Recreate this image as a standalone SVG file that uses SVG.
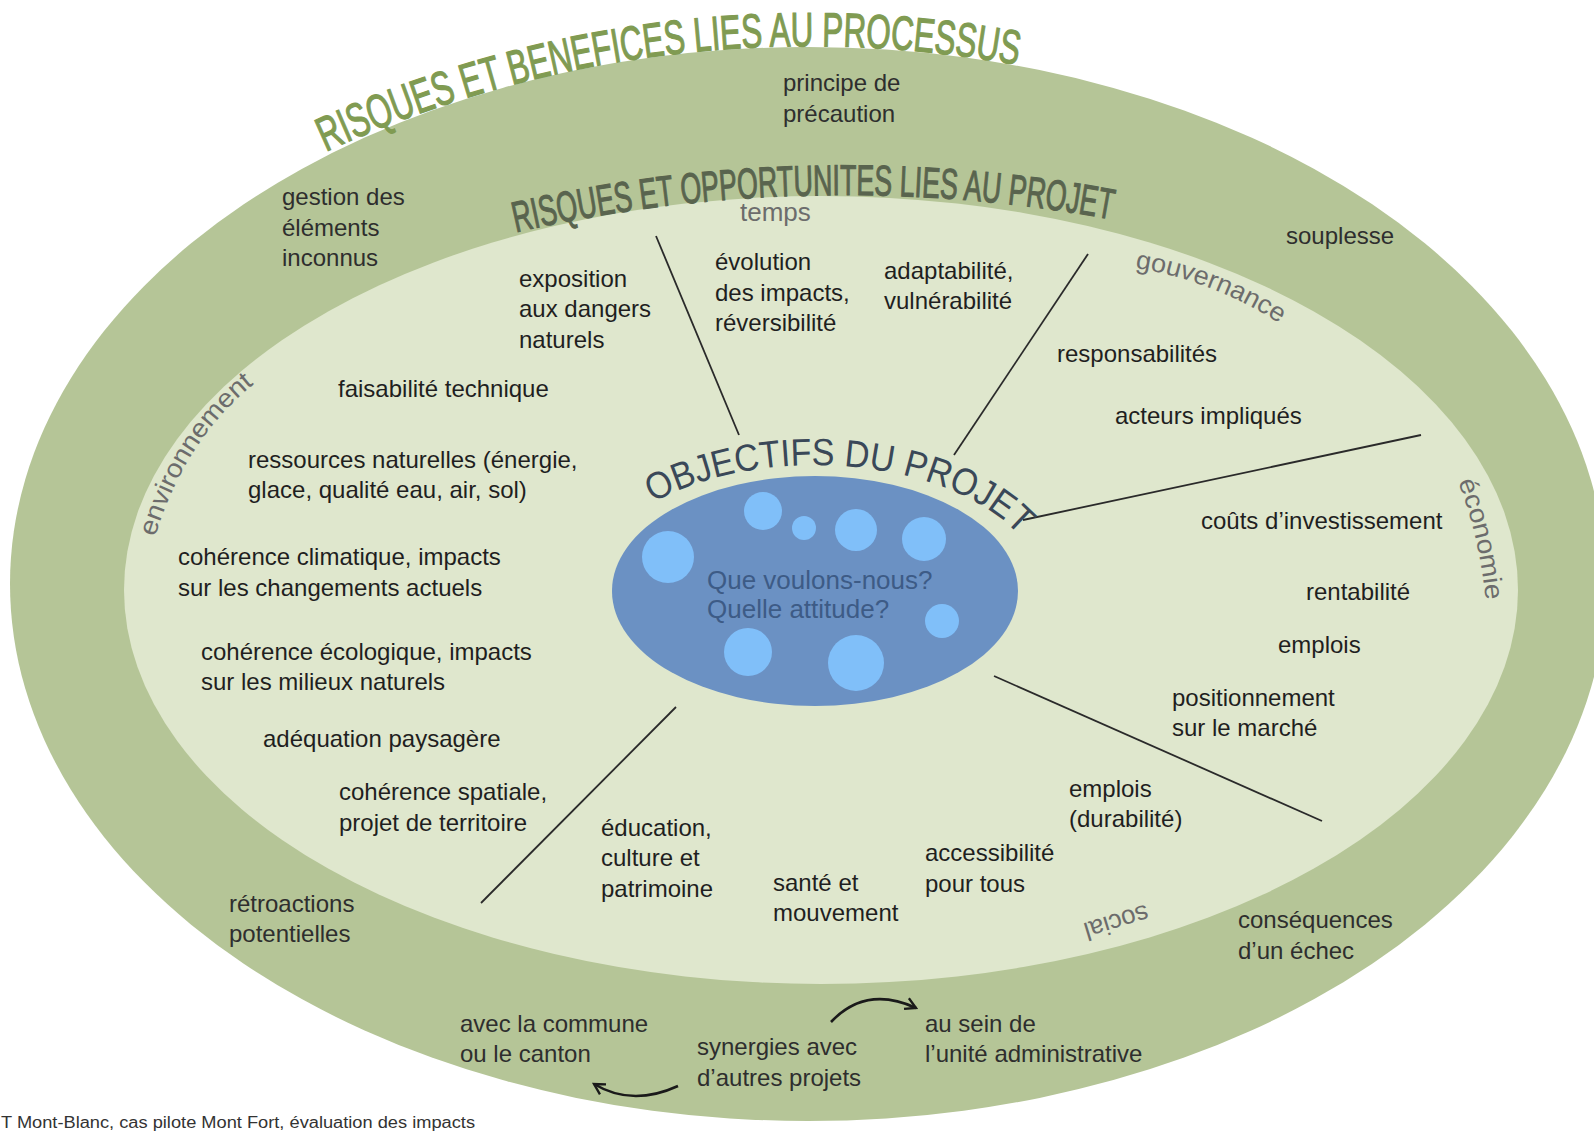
<svg xmlns="http://www.w3.org/2000/svg" width="1594" height="1132" viewBox="0 0 1594 1132">
<style>
  text { font-family: "Liberation Sans", Arial, sans-serif; }
  .t { font-size: 24px; fill: #1f1f1f; }
  .o { font-size: 24px; fill: #2e2e2e; }
  .lab { font-size: 26px; fill: #6c6c6c; }
  .t1 { font-size: 48px; fill: #809b52; stroke: #809b52; stroke-width: 1.2; }
  .t2 { font-size: 43px; fill: #59644e; stroke: #59644e; stroke-width: 1.1; }
  .obj { font-size: 38px; fill: #3a4858; }
  .q { font-size: 26px; fill: #3d5b86; }
  .ln { stroke: #2a2a2a; stroke-width: 1.8; fill: none; }
  .arr { stroke: #1a1a1a; stroke-width: 2.6; fill: none; marker-end: url(#chev); }
  .bub { fill: #80bff9; }
</style>
<defs>
  <marker id="chev" viewBox="0 0 12 12" refX="10" refY="6" markerWidth="14" markerHeight="14" markerUnits="userSpaceOnUse" orient="auto">
    <path d="M1,1 L10,6 L1,11" fill="none" stroke="#1a1a1a" stroke-width="2"/>
  </marker>
  <path id="p-title1" d="M250,190 A1160,1160 0 0 1 1250,133"/>
  <path id="p-title2" d="M400,264 A1470,1470 0 0 1 1250,252"/>
  <path id="p-obj" d="M585,595 A230,130 0 0 1 1045,595"/>
  <path id="p-env" d="M155,537 Q187,432 267,374"/>
  <path id="p-eco" d="M1458,482 Q1482,542 1488,624"/>
  <path id="p-gouv" d="M1135,268 Q1215,280 1290,330"/>
</defs>

<g id="outer-ring">
  <ellipse cx="808" cy="584" rx="798" ry="537" fill="#b5c597"/>
</g>
<g id="inner-ring">
  <ellipse cx="821" cy="590" rx="697" ry="394" fill="#dfe7cd"/>
</g>

<g id="title-processus">
  <text class="t1"><textPath href="#p-title1" startOffset="85" textLength="708" lengthAdjust="spacingAndGlyphs">RISQUES ET BENEFICES LIES AU PROCESSUS</textPath></text>
</g>
<g id="title-projet">
  <text class="t2"><textPath href="#p-title2" startOffset="120" textLength="600" lengthAdjust="spacingAndGlyphs">RISQUES ET OPPORTUNITES LIES AU PROJET</textPath></text>
</g>

<g id="connectors">
  <line class="ln" x1="656" y1="236" x2="739" y2="435"/>
  <line class="ln" x1="1088" y1="254" x2="954" y2="455"/>
  <line class="ln" x1="1421" y1="435" x2="1023" y2="520"/>
  <line class="ln" x1="994" y1="676" x2="1322" y2="821"/>
  <line class="ln" x1="676" y1="707" x2="481" y2="903"/>
  <path class="arr" d="M831,1022 Q866,985 916,1008"/>
  <path class="arr" d="M678,1086 Q632,1107 594,1084"/>
</g>

<!-- outer ring items -->
<g id="n-principe"><text class="o"><tspan x="783" y="91">principe de</tspan><tspan x="783" y="122">précaution</tspan></text></g>
<g id="n-gestion"><text class="o"><tspan x="282" y="205">gestion des</tspan><tspan x="282" y="236">éléments</tspan><tspan x="282" y="266">inconnus</tspan></text></g>
<g id="n-souplesse"><text class="o" x="1286" y="244">souplesse</text></g>
<g id="n-retroactions"><text class="o"><tspan x="229" y="912">rétroactions</tspan><tspan x="229" y="942">potentielles</tspan></text></g>
<g id="n-consequences"><text class="o"><tspan x="1238" y="928">conséquences</tspan><tspan x="1238" y="959">d’un échec</tspan></text></g>
<g id="n-commune"><text class="o"><tspan x="460" y="1032">avec la commune</tspan><tspan x="460" y="1062">ou le canton</tspan></text></g>
<g id="n-synergies"><text class="o"><tspan x="697" y="1055">synergies avec</tspan><tspan x="697" y="1086">d’autres projets</tspan></text></g>
<g id="n-unite"><text class="o"><tspan x="925" y="1032">au sein de</tspan><tspan x="925" y="1062">l’unité administrative</tspan></text></g>

<!-- category labels -->
<g id="l-temps"><text class="lab" x="740" y="221">temps</text></g>
<g id="l-gouvernance"><text class="lab"><textPath href="#p-gouv" textLength="156" lengthAdjust="spacingAndGlyphs">gouvernance</textPath></text></g>
<g id="l-environnement"><text class="lab"><textPath href="#p-env" textLength="185" lengthAdjust="spacingAndGlyphs">environnement</textPath></text></g>
<g id="l-economie"><text class="lab"><textPath href="#p-eco" textLength="122" lengthAdjust="spacingAndGlyphs">économie</textPath></text></g>
<g id="l-social"><text class="lab" text-anchor="middle" transform="translate(1114,914) rotate(163)">social</text></g>

<!-- inner ring items -->
<g id="n-exposition"><text class="t"><tspan x="519" y="287">exposition</tspan><tspan x="519" y="317">aux dangers</tspan><tspan x="519" y="348">naturels</tspan></text></g>
<g id="n-evolution"><text class="t"><tspan x="715" y="270">évolution</tspan><tspan x="715" y="301">des impacts,</tspan><tspan x="715" y="331">réversibilité</tspan></text></g>
<g id="n-adaptabilite"><text class="t"><tspan x="884" y="279">adaptabilité,</tspan><tspan x="884" y="309">vulnérabilité</tspan></text></g>
<g id="n-responsabilites"><text class="t" x="1057" y="362">responsabilités</text></g>
<g id="n-acteurs"><text class="t" x="1115" y="424">acteurs impliqués</text></g>
<g id="n-faisabilite"><text class="t" x="338" y="397">faisabilité technique</text></g>
<g id="n-ressources"><text class="t"><tspan x="248" y="468">ressources naturelles (énergie,</tspan><tspan x="248" y="498">glace, qualité eau, air, sol)</tspan></text></g>
<g id="n-climatique"><text class="t"><tspan x="178" y="565">cohérence climatique, impacts</tspan><tspan x="178" y="596">sur les changements actuels</tspan></text></g>
<g id="n-ecologique"><text class="t"><tspan x="201" y="660">cohérence écologique, impacts</tspan><tspan x="201" y="690">sur les milieux naturels</tspan></text></g>
<g id="n-paysagere"><text class="t" x="263" y="747">adéquation paysagère</text></g>
<g id="n-spatiale"><text class="t"><tspan x="339" y="800">cohérence spatiale,</tspan><tspan x="339" y="831">projet de territoire</tspan></text></g>
<g id="n-education"><text class="t"><tspan x="601" y="836">éducation,</tspan><tspan x="601" y="866">culture et</tspan><tspan x="601" y="897">patrimoine</tspan></text></g>
<g id="n-sante"><text class="t"><tspan x="773" y="891">santé et</tspan><tspan x="773" y="921">mouvement</tspan></text></g>
<g id="n-accessibilite"><text class="t"><tspan x="925" y="861">accessibilité</tspan><tspan x="925" y="892">pour tous</tspan></text></g>
<g id="n-emplois-durabilite"><text class="t"><tspan x="1069" y="797">emplois</tspan><tspan x="1069" y="827">(durabilité)</tspan></text></g>
<g id="n-couts"><text class="t" x="1201" y="529">coûts d’investissement</text></g>
<g id="n-rentabilite"><text class="t" x="1306" y="600">rentabilité</text></g>
<g id="n-emplois"><text class="t" x="1278" y="653">emplois</text></g>
<g id="n-positionnement"><text class="t"><tspan x="1172" y="706">positionnement</tspan><tspan x="1172" y="736">sur le marché</tspan></text></g>

<!-- centre -->
<g id="n-objectifs">
  <text class="obj"><textPath href="#p-obj" startOffset="120" textLength="390" lengthAdjust="spacingAndGlyphs">OBJECTIFS DU PROJET</textPath></text>
  <ellipse cx="815" cy="591" rx="203" ry="115" fill="#6b91c3"/>
  <circle class="bub" cx="668" cy="557" r="26"/>
  <circle class="bub" cx="763" cy="511" r="19"/>
  <circle class="bub" cx="804" cy="528" r="12"/>
  <circle class="bub" cx="856" cy="530" r="21"/>
  <circle class="bub" cx="924" cy="539" r="22"/>
  <circle class="bub" cx="942" cy="621" r="17"/>
  <circle class="bub" cx="748" cy="652" r="24"/>
  <circle class="bub" cx="856" cy="663" r="28"/>
  <text class="q"><tspan x="707" y="589">Que voulons-nous?</tspan><tspan x="707" y="618">Quelle attitude?</tspan></text>
</g>

<g id="caption"><text x="1" y="1128" font-size="16" fill="#333" textLength="474" lengthAdjust="spacingAndGlyphs">T Mont-Blanc, cas pilote Mont Fort, évaluation des impacts</text></g>
</svg>
